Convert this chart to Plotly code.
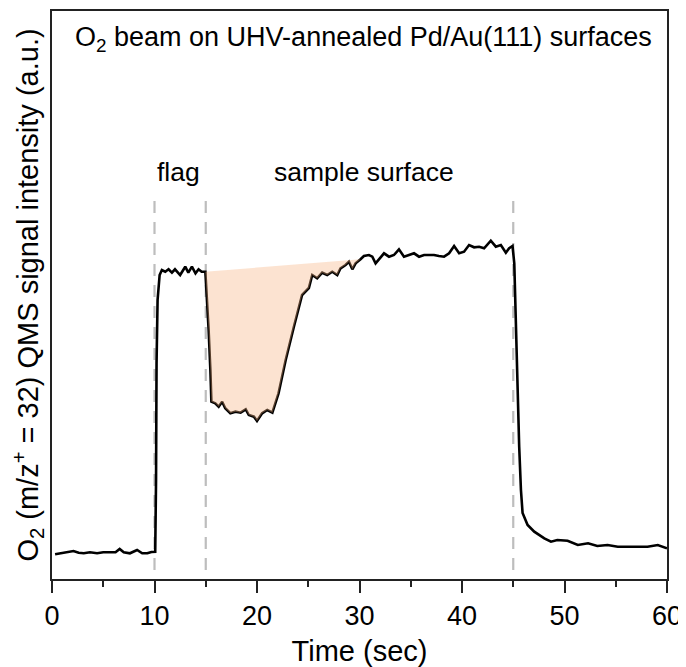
import plotly.graph_objects as go

# ---- data (time in s, QMS signal in a.u.) ----
time_s = [0.3, 0.78, 1.4, 2.1, 2.6, 3.1, 3.7, 4.4, 5.0, 5.7, 6.2, 6.6, 7.0, 7.6, 8.3, 8.8, 9.3, 9.7,
          10.07, 10.15, 10.2, 10.3, 10.5, 10.72, 11.05, 11.37, 11.7, 12.0, 12.5, 13.0, 13.3, 13.65,
          14.0, 14.3, 14.6, 14.96, 15.12, 15.28, 15.45, 15.55, 15.93, 16.26, 16.6, 16.9, 17.4, 17.9,
          18.4, 18.9, 19.2, 19.7, 20.0, 20.5, 21.0, 21.5, 22.1, 22.8, 23.6, 24.4, 25.06, 25.39, 25.87,
          26.36, 26.85, 27.34, 27.83, 28.15, 28.64, 28.97, 29.3, 29.62, 30.1, 30.43, 30.92, 31.25,
          31.57, 31.9, 32.39, 32.88, 33.36, 33.85, 34.34, 34.83, 35.32, 35.81, 36.3, 36.8, 37.27,
          37.75, 38.25, 38.74, 39.23, 39.72, 40.2, 40.69, 41.18, 41.67, 42.16, 42.81, 43.3, 43.79,
          44.28, 44.6, 44.93, 45.1, 45.26, 45.42, 45.58, 45.75, 45.91, 46.4, 47.05, 48.03, 48.68,
          49.3, 50.3, 51.3, 52.3, 53.2, 54.2, 55.2, 56.2, 57.2, 58.1, 59.1, 60.0]
signal = [4.94, 5.14, 5.26, 5.6, 5.26, 5.14, 5.34, 5.14, 5.34, 5.26, 5.34, 6.0, 5.34, 5.14, 5.8, 5.14, 5.14, 5.4,
          5.46, 19.8, 43.2, 55.8, 60.8, 61.8, 61.46, 61.94, 61.26, 61.94, 60.8, 62.46, 61.26, 62.46,
          61.14, 61.94, 61.46, 61.46, 56.46, 49.8, 41.8, 35.46, 35.14, 34.46, 35.46, 34.14, 33.14, 33.46,
          33.26, 33.94, 32.8, 32.46, 31.6, 33.14, 33.8, 33.26, 37.14, 43.8, 50.46, 56.8, 58.2, 60.8, 60.14,
          61.26, 60.8, 61.46, 60.8, 62.14, 62.8, 63.46, 61.94, 63.14, 63.94, 64.6, 64.8, 64.46,
          63.14, 63.94, 65.14, 64.46, 64.8, 65.94, 64.46, 64.8, 65.14, 64.46, 64.8, 64.8, 64.8,
          64.6, 64.46, 65.14, 66.6, 65.14, 65.46, 66.8, 66.34, 66.46, 66.14, 67.66, 66.46, 66.8,
          65.26, 66.14, 66.6, 63.14, 49.8, 39.8, 26.46, 17.8, 13.2, 10.8, 9.46, 8.14, 7.46,
          7.8, 7.66, 6.8, 7.14, 6.6, 6.8, 6.46, 6.46, 6.6, 6.46, 6.8, 6.14]

# shaded uptake region: from flag-open to recovery of the signal
shade_start, shade_end = 14.96, 30.1
event_times = [10, 15, 45]           # flag / sample-surface events (dashed markers)
event_span = [1.8, 77.0]             # vertical extent of dashed markers (a.u.)
x_ticks = [0, 10, 20, 30, 40, 50, 60]

title_text = "O<sub>2</sub> beam on UHV-annealed Pd/Au(111) surfaces"
label_flag = "flag"
label_sample = "sample surface"
x_title = "Time (sec)"
y_title = "O<sub>2</sub> (m/z<sup>+</sup> = 32) QMS signal intensity (a.u.)"

FONT = "Liberation Sans, Arial, sans-serif"

fig = go.Figure()

# dashed event markers
for t in event_times:
    fig.add_trace(go.Scatter(x=[t, t], y=event_span, mode="lines",
                             line=dict(color="#bdbdbd", width=2.2, dash="12px,9px"),
                             hoverinfo="skip", showlegend=False))

# main trace
fig.add_trace(go.Scatter(x=time_s, y=signal, mode="lines",
                         line=dict(color="black", width=2.6), showlegend=False))

# shaded area (drawn above the line, translucent)
sx = [t for t in time_s if shade_start <= t <= shade_end]
sy = [s for t, s in zip(time_s, signal) if shade_start <= t <= shade_end]
fig.add_trace(go.Scatter(x=sx + [sx[0]], y=sy + [sy[0]], mode="lines", fill="toself",
                         fillcolor="rgba(246,178,128,0.36)", line=dict(width=0),
                         hoverinfo="skip", showlegend=False))

fig.add_annotation(x=30.4, y=108.0, text=title_text, showarrow=False,
                   font=dict(family=FONT, size=27, color="black"))
fig.add_annotation(x=12.3, y=81.5, text=label_flag, showarrow=False,
                   font=dict(family=FONT, size=26.5, color="black"))
fig.add_annotation(x=30.4, y=81.5, text=label_sample, showarrow=False,
                   font=dict(family=FONT, size=26.5, color="black"))

# the page body adds an 8px offset, so the figure is sized to fit the window
fig.update_layout(
    width=678, height=659,
    margin=dict(l=44, r=19, t=3, b=88),
    plot_bgcolor="white", paper_bgcolor="white",
    font=dict(family=FONT, size=27, color="black"),
)
fig.update_xaxes(range=[0, 60], tickvals=x_ticks, ticks="outside", ticklen=12, tickwidth=2,
                 tickcolor="#222", showline=True, linecolor="#222", linewidth=2, mirror=True,
                 showgrid=False, zeroline=False, automargin=False, ticklabelstandoff=0,
                 minor=dict(dtick=5, ticks="outside", ticklen=6, tickwidth=2, tickcolor="#222", showgrid=False),
                 tickfont=dict(family=FONT, size=27),
                 title=dict(text=x_title, font=dict(family=FONT, size=29), standoff=15))
fig.update_yaxes(range=[0, 113.6], showticklabels=False, ticks="", showline=True, linecolor="#222",
                 linewidth=2, mirror=True, showgrid=False, zeroline=False, automargin=False,
                 title=dict(text=y_title, font=dict(family=FONT, size=29), standoff=8))

fig.write_html("out.html")
